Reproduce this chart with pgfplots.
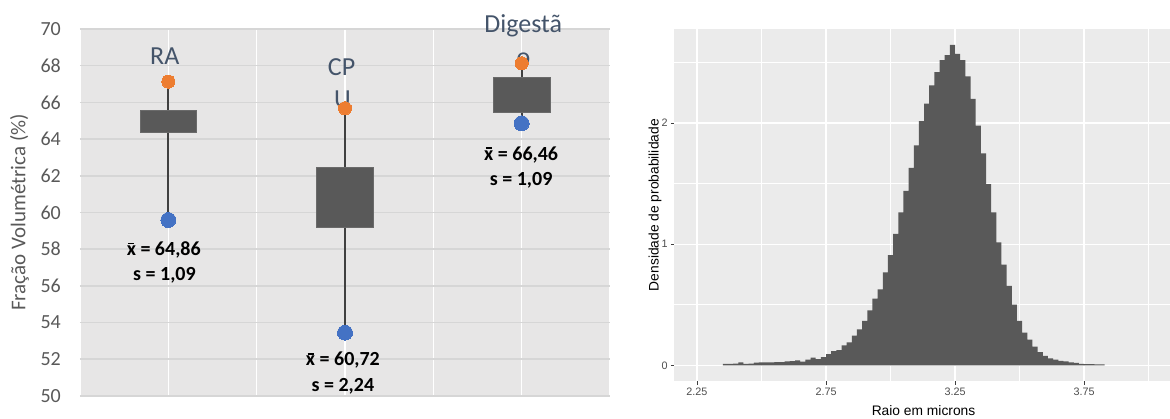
\documentclass[border=0pt]{standalone}
\usepackage{pgfplots}
\pgfplotsset{compat=1.18}
\usepackage{fontspec}
\setmainfont{Carlito}
\newfontfamily\arialfont{Liberation Sans}
\definecolor{exbg}{HTML}{E7E6E6}
\definecolor{exgrid}{HTML}{D6D6D6}
\definecolor{boxc}{HTML}{595959}
\definecolor{whisk}{HTML}{404040}
\definecolor{orng}{HTML}{ED7D31}
\definecolor{blu}{HTML}{4472C4}
\definecolor{catc}{HTML}{44546A}
\definecolor{tickc}{HTML}{595959}
\definecolor{ggbg}{HTML}{EBEBEB}
\definecolor{ggtick}{HTML}{4D4D4D}
\definecolor{ggbar}{HTML}{595959}
\newcommand\xbar{{\ooalign{x\cr\hidewidth\rule[0.56em]{0.3em}{0.07em}\hidewidth\cr}}}

\pgfplotstableread{
x y
2.35 0.012
2.37 0.012
2.39 0.014
2.41 0.025
2.43 0.012
2.45 0.014
2.47 0.022
2.49 0.024
2.51 0.024
2.53 0.025
2.55 0.026
2.57 0.027
2.59 0.033
2.61 0.034
2.63 0.041
2.65 0.030
2.67 0.046
2.69 0.063
2.71 0.052
2.73 0.068
2.75 0.093
2.77 0.116
2.79 0.126
2.81 0.165
2.83 0.190
2.85 0.245
2.87 0.297
2.89 0.366
2.91 0.454
2.93 0.550
2.95 0.627
2.97 0.767
2.99 0.910
3.01 1.084
3.03 1.263
3.05 1.440
3.07 1.630
3.09 1.815
3.11 2.016
3.13 2.160
3.15 2.310
3.17 2.420
3.19 2.520
3.21 2.560
3.23 2.645
3.25 2.570
3.27 2.520
3.29 2.385
3.31 2.200
3.33 1.978
3.35 1.750
3.37 1.495
3.39 1.263
3.41 1.015
3.43 0.830
3.45 0.655
3.47 0.500
3.49 0.366
3.51 0.270
3.53 0.212
3.55 0.155
3.57 0.108
3.59 0.078
3.61 0.058
3.63 0.046
3.65 0.037
3.67 0.032
3.69 0.025
3.71 0.020
3.73 0.012
3.75 0.010
3.77 0.010
3.79 0.008
3.81 0.008
3.83 0.008
}\histdata

\begin{document}
\begin{tikzpicture}[x=1pt,y=1pt]
\path[use as bounding box] (0,0) rectangle (1170,419);

% ---------------- left panel (Excel style) ----------------
\begin{axis}[
  at={(80pt,23pt)}, anchor=south west, scale only axis,
  width=530pt, height=367pt,
  xmin=0, xmax=3, ymin=50, ymax=70,
  clip=false,
  axis background/.style={fill=exbg},
  axis line style={draw=none},
  xtick={0,0.5,...,3}, xticklabels={},
  ytick={50,52,...,70},
  major tick length=0pt,
  xmajorgrids, ymajorgrids,
  x grid style={white, line width=1.6pt},
  y grid style={exgrid, line width=1.6pt},
  /pgf/number format/assume math mode=true,
  yticklabel style={font=\fontsize{20}{24}\selectfont, text=tickc, inner sep=0pt, xshift=-19pt},
  every axis y label/.style={at={(axis description cs:-0.114,0.5)}, rotate=90, anchor=center,
     font=\fontsize{21}{25}\selectfont, text=tickc},
  ylabel={Fração Volumétrica (\%)},
]
\addplot[whisk, line width=2pt] coordinates {(0.5,59.59) (0.5,67.13)};
\addplot[whisk, line width=2pt] coordinates {(1.5,53.45) (1.5,65.68)};
\addplot[whisk, line width=2pt] coordinates {(2.5,64.86) (2.5,68.13)};
\addplot[fill=boxc, draw=boxc!90!white, line width=0.6pt] coordinates {(0.34,64.35) (0.66,64.35) (0.66,65.55) (0.34,65.55) (0.34,64.35)};
\addplot[fill=boxc, draw=boxc!90!white, line width=0.6pt] coordinates {(1.336,59.17) (1.66,59.17) (1.66,62.44) (1.336,62.44) (1.336,59.17)};
\addplot[fill=boxc, draw=boxc!90!white, line width=0.6pt] coordinates {(2.34,65.48) (2.66,65.48) (2.66,67.37) (2.34,67.37) (2.34,65.48)};
\addplot[orng, only marks, mark=*, mark size=6.6pt, mark options={solid, fill=orng, draw=orng, line width=0pt}] coordinates {(0.5,67.13) (1.5,65.68) (2.5,68.13)};
\addplot[blu, only marks, mark=*, mark size=7.5pt, mark options={solid, fill=blu, draw=blu, line width=0pt}] coordinates {(0.5,59.59) (1.5,53.45) (2.5,64.86)};
% category labels
\begin{scope}[every node/.style={anchor=base, font=\fontsize{26}{30}\selectfont, text=catc, inner sep=0pt}]
\node at (axis cs:0.48,68.04) {RA};
\node at (axis cs:1.481,67.49) {CP};
\node at (axis cs:1.485,65.73) {U};
\node at (axis cs:2.509,69.80) {Digestã};
\node at (axis cs:2.51,68.00) {o};
\end{scope}
% statistics
\begin{scope}[every node/.style={anchor=base, font=\bfseries\fontsize{20}{24}\selectfont, text=black, inner sep=0pt}]
\node at (axis cs:0.474,57.65) {\xbar{} = 64,86};
\node at (axis cs:0.478,56.28) {s = 1,09};
\node at (axis cs:1.488,51.65) {\xbar{} = 60,72};
\node at (axis cs:1.488,50.23) {s = 2,24};
\node at (axis cs:2.497,62.86) {\xbar{} = 66,46};
\node at (axis cs:2.497,61.46) {s = 1,09};
\end{scope}
\end{axis}

% ---------------- right panel (ggplot histogram) ----------------
\begin{axis}[
  at={(674.4pt,37.7pt)}, anchor=south west, scale only axis,
  width=495.6pt, height=352.3pt,
  xmin=2.1625, xmax=4.083, ymin=-0.132, ymax=2.776,
  axis background/.style={fill=ggbg},
  axis line style={draw=none},
  xtick={2.25,2.75,3.25,3.75}, minor xtick={2.5,3.0,3.5,4.0},
  ytick={0,1,2}, minor ytick={0.5,1.5,2.5},
  xticklabels={2.25,2.75,3.25,3.75},
  yticklabels={0,1,2},
  xtick pos=bottom, ytick pos=left,
  tick align=outside, major tick length=3.5pt, minor tick length=0pt,
  tick style={color=ggtick!80!black, line width=0.9pt},
  grid=both,
  major grid style={white, line width=1.3pt},
  minor grid style={white, line width=0.65pt},
  /pgf/number format/assume math mode=true,
  xticklabel style={font=\arialfont\fontsize{10.8}{13}\selectfont, text=ggtick, inner sep=0pt, yshift=-3pt},
  yticklabel style={font=\arialfont\fontsize{10.8}{13}\selectfont, text=ggtick, inner sep=0pt, xshift=-3pt},
  every axis x label/.style={at={(axis description cs:0.5027,0)}, yshift=-24pt, anchor=north,
     font=\arialfont\fontsize{13.8}{16}\selectfont, text=black, inner sep=0pt},
  every axis y label/.style={at={(axis description cs:-0.039,0.5)}, rotate=90, anchor=center,
     font=\arialfont\fontsize{13.8}{16}\selectfont, text=black},
  xlabel={Raio em microns},
  ylabel={Densidade de probabilidade},
]
\addplot[const plot, fill=ggbar, draw=none] table[x=x, y=y] {\histdata} \closedcycle;
\end{axis}
\end{tikzpicture}
\end{document}
